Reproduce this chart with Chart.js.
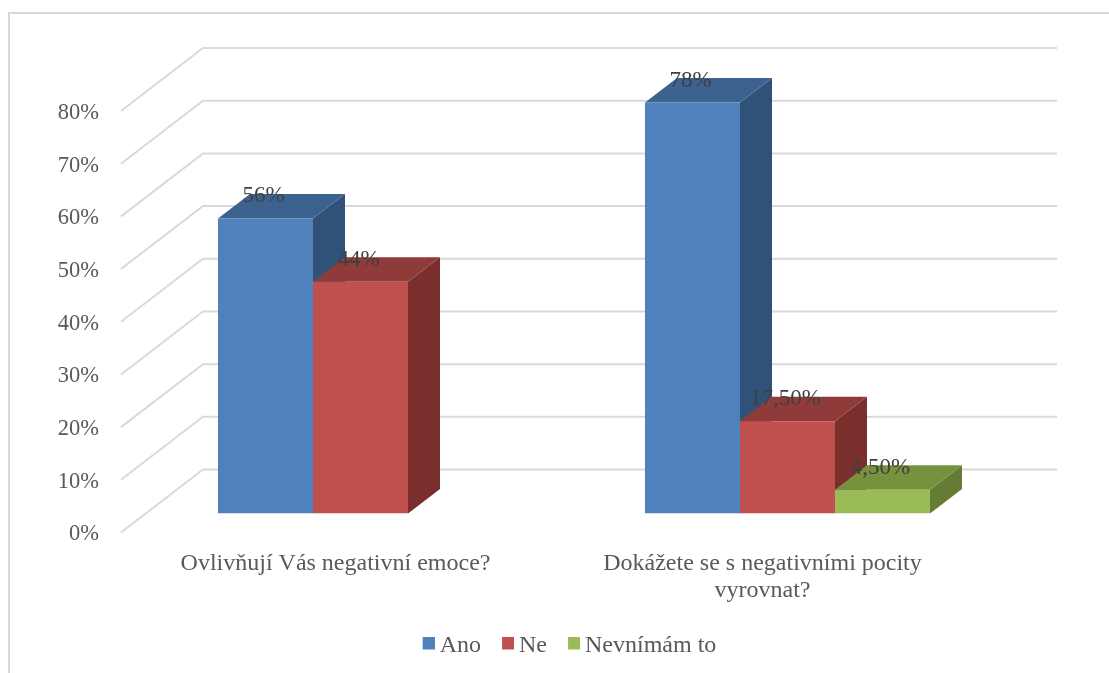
<!DOCTYPE html>
<html>
<head>
<meta charset="utf-8">
<script src="https://cdn.jsdelivr.net/npm/chart.js@4"></script>
<style>
html,body{margin:0;padding:0;background:#fff;overflow:hidden}
#wrap{position:relative;width:1109px;height:673px}
#frame{position:absolute;left:8px;top:12px;right:0;bottom:0;border-left:2px solid #D9D9D9;border-top:2px solid #D9D9D9;pointer-events:none}
canvas{position:absolute;left:0;top:0}
</style>
</head>
<body>
<div id="wrap"><canvas id="c" width="1109" height="673"></canvas><div id="frame"></div></div>
<script>
const categories = ["Ovlivňují Vás negativní emoce?", ["Dokážete se s negativními pocity", "vyrovnat?"]];
const seriesNames = ["Ano", "Ne", "Nevnímám to"];
const ano = [56, 78];
const ne = [44, 17.5];
const nevnimam = [null, 4.5];
const anoLabels = ["56%", "78%"];
const neLabels = ["44%", "17,50%"];
const nevnimamLabels = ["", "4,50%"];
const frontColors = ["#4F81BD", "#C0504D", "#9BBB59"];
const topColors = ["#3C6390", "#8F3B39", "#76923F"];
const sideColors = ["#315278", "#7A2F2D", "#647C35"];
const gridColor = "#D9D9D9";
const textColor = "#595959";
const labelColor = "#404040";
const fontFamily = "'Liberation Serif'";
const DEPTH_X = 32, DEPTH_Y = 24.5;
const dataLabels = [anoLabels, neLabels, nevnimamLabels];

function swatch(color){
  const s = document.createElement('canvas');
  s.width = 15; s.height = 19;
  const g = s.getContext('2d');
  g.fillStyle = color; g.fillRect(3,0,12,13);
  return s;
}
const swatches = frontColors.map(swatch);

const walls3d = {
  id:'walls3d',
  afterLayout(chart){
    const l = chart.legend;
    l.left = 0; l.right = 1143;
    const h = l.bottom - l.top;
    l.top = 609; l.bottom = 609 + h;
  },
  beforeDatasetsDraw(chart){
    const {ctx, chartArea:a, scales:{y}} = chart;
    ctx.save();
    ctx.strokeStyle = gridColor;
    ctx.lineWidth = 2;
    y.ticks.forEach(t=>{
      const p = y.getPixelForValue(t.value);
      ctx.beginPath();
      ctx.moveTo(a.left-26, p+19);
      ctx.lineTo(a.left+56, p-44);
      ctx.lineTo(a.right+56, p-44);
      ctx.stroke();
    });
    chart.data.datasets.forEach((ds,i)=>{
      chart.getDatasetMeta(i).data.forEach((el,j)=>{
        if(ds.data[j]===null) return;
        const x0 = el.x-el.width/2, x1 = el.x+el.width/2, t = el.y, b = el.base;
        ctx.fillStyle = sideColors[i];
        ctx.beginPath();
        ctx.moveTo(x1,t);ctx.lineTo(x1+DEPTH_X,t-DEPTH_Y);ctx.lineTo(x1+DEPTH_X,b-DEPTH_Y);ctx.lineTo(x1,b);
        ctx.closePath();ctx.fill();
        ctx.fillStyle = topColors[i];
        ctx.beginPath();
        ctx.moveTo(x0,t);ctx.lineTo(x0+DEPTH_X,t-DEPTH_Y);ctx.lineTo(x1+DEPTH_X,t-DEPTH_Y);ctx.lineTo(x1,t);
        ctx.closePath();ctx.fill();
      });
    });
    ctx.restore();
  },
  afterDatasetsDraw(chart){
    const {ctx} = chart;
    ctx.save();
    ctx.font = "23px "+fontFamily;
    ctx.fillStyle = labelColor;
    ctx.textAlign = 'center';
    ctx.textBaseline = 'middle';
    chart.data.datasets.forEach((ds,i)=>{
      chart.getDatasetMeta(i).data.forEach((el,j)=>{
        if(ds.data[j]===null) return;
        ctx.fillText(dataLabels[i][j], el.x-2, el.y-22);
      });
    });
    ctx.restore();
  }
};

new Chart(document.getElementById('c'),{
  type:'bar',
  data:{
    labels:categories,
    datasets:[
      {label:seriesNames[0],data:ano,backgroundColor:frontColors[0]},
      {label:seriesNames[1],data:ne,backgroundColor:frontColors[1]},
      {label:seriesNames[2],data:nevnimam,backgroundColor:frontColors[2]}
    ]
  },
  plugins:[walls3d],
  options:{
    responsive:false,
    animation:false,
    layout:{padding:{top:92,left:0,right:108,bottom:0}},
    datasets:{bar:{barPercentage:1,categoryPercentage:0.6675,borderWidth:0}},
    plugins:{
      tooltip:{enabled:false},
      legend:{
        position:'bottom',
        labels:{
          color:textColor,
          font:{family:fontFamily,size:24},
          usePointStyle:true,
          boxWidth:1,
          padding:25,
          generateLabels(chart){
            const items = Chart.defaults.plugins.legend.labels.generateLabels(chart);
            items.forEach((it,i)=>{it.pointStyle = swatches[i];});
            return items;
          }
        }
      }
    },
    scales:{
      x:{
        grid:{display:false},
        border:{display:false},
        ticks:{
          color:textColor,
          font:{family:fontFamily,size:24,lineHeight:1.12},
          maxRotation:0,minRotation:0,autoSkip:false,
          labelOffset:-25,
          padding:29
        },
        afterFit(s){ s.height = 673-513.5-s.chart.legend.height; }
      },
      y:{
        min:0,max:80,
        grid:{display:false},
        border:{display:false},
        ticks:{
          stepSize:10,
          color:textColor,
          font:{family:fontFamily,size:22.5},
          labelOffset:21,
          padding:40,
          callback:v=>v+'%'
        },
        afterFit(s){ s.width = 147; }
      }
    }
  }
});
</script>
</body>
</html>
